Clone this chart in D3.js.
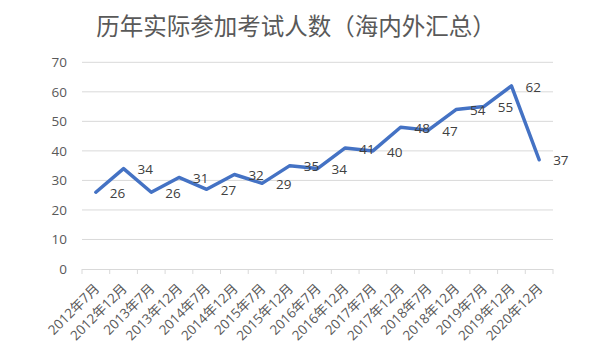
<!DOCTYPE html>
<html>
<head>
<meta charset="utf-8">
<script src="https://cdn.jsdelivr.net/npm/d3@7"></script>
<style>
  html, body { margin: 0; padding: 0; background: #fff; }
  svg { display: block; }
  text { font-family: "Open Sans", "Noto Sans CJK SC", sans-serif; }
</style>
</head>
<body>
<svg id="chart" width="594" height="352"></svg>
<script>
const title = "历年实际参加考试人数（海内外汇总）";
const categories = ["2012年7月","2012年12月","2013年7月","2013年12月","2014年7月","2014年12月","2015年7月","2015年12月","2016年7月","2016年12月","2017年7月","2017年12月","2018年7月","2018年12月","2019年7月","2019年12月","2020年12月"];
const values = [26, 34, 26, 31, 27, 32, 29, 35, 34, 41, 40, 48, 47, 54, 55, 62, 37];
const yTicks = [0, 10, 20, 30, 40, 50, 60, 70];

(function () {
const svg = d3.select("#chart");
const mLeft = 82, mRight = 553, mTop = 62.3, mBottom = 269;

const x = d3.scaleBand().domain(categories).range([mLeft, mRight]);
const y = d3.scaleLinear().domain([0, 70]).range([mBottom, mTop]);

// title
svg.append("text")
  .attr("x", 296).attr("y", 35)
  .attr("text-anchor", "middle")
  .attr("font-family", "'Noto Sans CJK SC', sans-serif")
  .attr("font-size", 23.5)
  .attr("fill", "#595959")
  .text(title);

// gridlines
svg.append("g").selectAll("line")
  .data(yTicks.filter(d => d > 0))
  .join("line")
  .attr("x1", mLeft).attr("x2", mRight)
  .attr("y1", d => y(d)).attr("y2", d => y(d))
  .attr("stroke", "#d9d9d9").attr("stroke-width", 1);

// y axis labels
const yAxis = d3.axisLeft(y).tickValues(yTicks).tickSize(0).tickPadding(15);
const gy = svg.append("g").attr("transform", `translate(${mLeft},0)`).call(yAxis);
gy.select(".domain").remove();
gy.selectAll("text")
  .attr("font-size", 13.5)
  .attr("fill", "#595959")
  .attr("font-family", "'Open Sans', sans-serif");

// x axis
const xAxis = d3.axisBottom(x).tickSize(0).tickFormat("");
const gx = svg.append("g").attr("transform", `translate(0,${mBottom})`).call(xAxis);
gx.select(".domain").attr("stroke", "#d9d9d9").attr("d", `M${mLeft},0.5H${mRight}`);
const bounds = categories.map(c => x(c)).concat([mRight]);
gx.selectAll(".bt").data(bounds).join("line")
  .attr("class", "bt")
  .attr("x1", d => d).attr("x2", d => d)
  .attr("y1", 0).attr("y2", 5)
  .attr("stroke", "#d9d9d9");

// x labels rotated
svg.append("g").selectAll("text")
  .data(categories)
  .join("text")
  .attr("transform", d => `translate(${x(d) + x.bandwidth() / 2 + 1},${mBottom + 17}) rotate(-45)`)
  .attr("text-anchor", "end")
  .attr("dy", "0.35em")
  .attr("font-size", 13.5)
  .attr("fill", "#595959")
  .attr("font-family", "'Noto Sans CJK SC', sans-serif")
  .text(d => d);

// line
const line = d3.line()
  .x((d, i) => x(categories[i]) + x.bandwidth() / 2)
  .y(d => y(d));
svg.append("path")
  .datum(values)
  .attr("d", line)
  .attr("fill", "none")
  .attr("stroke", "#4472c4")
  .attr("stroke-width", 3.5)
  .attr("stroke-linejoin", "round")
  .attr("stroke-linecap", "round");

// data labels
svg.append("g").selectAll("text")
  .data(values)
  .join("text")
  .attr("x", (d, i) => x(categories[i]) + x.bandwidth() / 2 + 14)
  .attr("y", d => y(d) + 1)
  .attr("dy", "0.35em")
  .attr("font-size", 13.5)
  .attr("fill", "#404040")
  .text(d => d);
})();
</script>
</body>
</html>
